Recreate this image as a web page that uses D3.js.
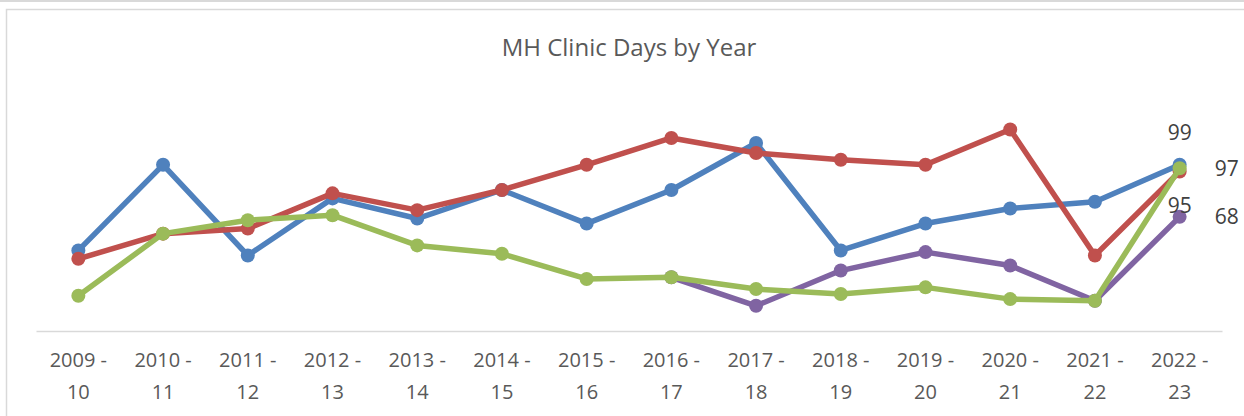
<html>
<head>
<script type="text/javascript" src="https://cdn.jsdelivr.net/npm/d3@7/dist/d3.min.js"></script>
<style>
    body { margin: 0; background: #fff; }
    text { font-family: "Open Sans", "Noto Sans", sans-serif; }
    .tick text { fill: #595959; font-size: 20px; }
    .title { fill: #595959; font-size: 24px; }
    .dlabel { fill: #404040; font-size: 21px; }
</style>
</head>
<body>
<script>
// categories (two-line labels)
var years = ["2009 - 10", "2010 - 11", "2011 - 12", "2012 - 13", "2013 - 14", "2014 - 15", "2015 - 16",
             "2016 - 17", "2017 - 18", "2018 - 19", "2019 - 20", "2020 - 21", "2021 - 22", "2022 - 23"];

// series values
var blueVals   = [48, 99, 45, 79, 67, 84, 64, 84, 112, 48, 64, 73, 77, 99];
var redVals    = [43, 58, 61, 82, 72, 84, 99, 115, 106, 102, 99, 120, 45, 95];
var greenVals  = [21, 58, 66, 69, 51, 46, 31, 32, 25, 22, 26, 19, 18, 97];
var purpleVals = [null, null, null, null, null, null, null, 32, 15, 36, 47, 39, 18, 68];

var W = 1244, H = 416;

var svg = d3.select("body").append("svg")
    .attr("width", W)
    .attr("height", H);

// frame like the spreadsheet chart area
svg.append("rect").attr("x", 0).attr("y", 0).attr("width", W).attr("height", 2).attr("fill", "#d9d9d9");
svg.append("path")
    .attr("d", "M6.5," + H + " V9.5 H" + W)
    .attr("fill", "none")
    .attr("stroke", "#d9d9d9")
    .attr("stroke-width", 1.5);

svg.append("text")
    .attr("class", "title")
    .attr("x", 629)
    .attr("y", 56)
    .attr("text-anchor", "middle")
    .text("MH Clinic Days by Year");

var x = d3.scaleBand()
    .domain(years)
    .range([36, 1222]);

var y = d3.scaleLinear()
    .domain([0, 140])
    .range([331, 96]);

// category axis
var xAxis = svg.append("g")
    .attr("transform", "translate(0,331)")
    .call(d3.axisBottom(x).tickSize(0).tickPadding(0));
xAxis.select(".domain").attr("stroke", "#d9d9d9").attr("stroke-width", 1.5);
xAxis.selectAll(".tick text").attr("dy", null).each(function(d) {
    var t = d3.select(this).text(null);
    var parts = d.split(" - ");
    t.append("tspan").attr("x", 0).attr("y", 36).text(parts[0] + " -");
    t.append("tspan").attr("x", 0).attr("y", 68).text(parts[1]);
});

var series = [
    { name: "blue",   color: "#4F81BD", values: blueVals },
    { name: "red",    color: "#C0504D", values: redVals },
    { name: "purple", color: "#8064A2", values: purpleVals },
    { name: "green",  color: "#9BBB59", values: greenVals }
];

var cx = function(i) { return x(years[i]) + x.bandwidth() / 2; };

var line = d3.line()
    .defined(function(d) { return d != null; })
    .x(function(d, i) { return cx(i); })
    .y(function(d) { return y(d); });

series.forEach(function(s) {
    var g = svg.append("g").attr("class", "series " + s.name);
    g.append("path")
        .attr("d", line(s.values))
        .attr("fill", "none")
        .attr("stroke", s.color)
        .attr("stroke-width", 5.5)
        .attr("stroke-linejoin", "round");
    g.selectAll("circle")
        .data(s.values.map(function(v, i) { return { v: v, i: i }; })
                      .filter(function(d) { return d.v != null; }))
        .enter().append("circle")
        .attr("cx", function(d) { return cx(d.i); })
        .attr("cy", function(d) { return y(d.v); })
        .attr("r", 7)
        .attr("fill", s.color);
});

// end-of-line data labels
var last = years.length - 1;
var labels = [
    { vals: blueVals,   dx: 0,  dy: -32 },
    { vals: redVals,    dx: 0,  dy: 34 },
    { vals: greenVals,  dx: 47, dy: 0 },
    { vals: purpleVals, dx: 47, dy: 0 }
];
labels.forEach(function(l) {
    svg.append("text")
        .attr("class", "dlabel")
        .attr("x", cx(last) + l.dx)
        .attr("y", y(l.vals[last]) + l.dy)
        .attr("dy", "0.35em")
        .attr("text-anchor", "middle")
        .text(l.vals[last]);
});
</script>
</body>
</html>
